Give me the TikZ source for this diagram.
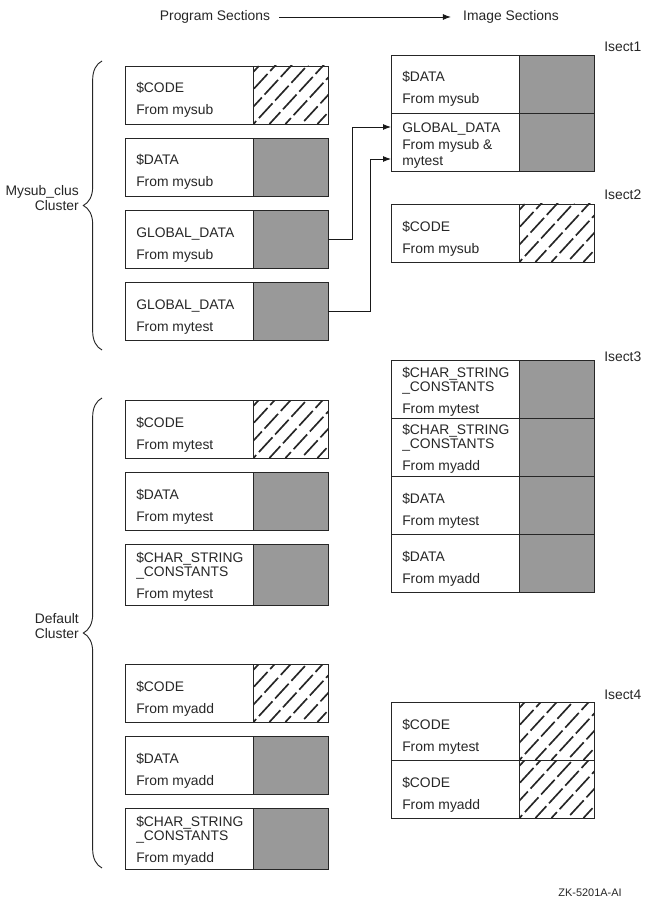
\documentclass[tikz,border=0pt]{standalone}
\usepackage{fontspec}
\setmainfont{Liberation Sans}
\usetikzlibrary{arrows.meta,decorations.pathreplacing}

\newcommand\secfont{\fontsize{10.4}{11}\selectfont}
% section box: (name)(top left){fill style}{height}{last baseline}{text}
\def\secbox(#1)(#2)#3#4#5#6{%
	\node[secbox, minimum height=#4] (#1) at (#2) {};
	\node[#3, minimum height=#4, anchor=north east] (#1-f) at (#1.north east) {};
	\node[seclabel] (#1-t) at ([shift={(11,#5)}]#1.north west) {#6};
}

\tikzset{
	secbox/.style={draw=black!85, line width=0.7pt, minimum width=152.25pt, inner sep=0pt, outer sep=0pt, anchor=north west},
	datafill/.style={draw=black!85, line width=0.7pt, fill=black!40, minimum width=55.9pt, inner sep=0pt, outer sep=0pt},
	hatch/.style={line width=1.25pt, dash pattern=on 15pt off 3pt},
	codefill/.style={draw=black!85, line width=0.7pt, minimum width=55.9pt, inner sep=0pt, outer sep=0pt,
		path picture={\foreach \k/\p in {-4/4pt,-3/10pt,-2/0pt,-1/6pt,0/12pt,1/3pt,2/9pt,3/15pt,4/5pt}
			\draw[hatch, dash phase=\p] ([xshift=\k*12pt]path picture bounding box.south west) -- ++(46pt,50pt);}},
	seclabel/.style={anchor=base west, inner sep=0pt, align=left, text=black!85, font=\secfont},
	cluslbl/.style={anchor=east, align=right, inner sep=0pt, text=black!85, font=\fontsize{10.4}{11.25}\selectfont},
	iselbl/.style={anchor=west, inner sep=0pt, text=black!85, font=\secfont},
	clusbrace/.style={decorate, decoration={brace, amplitude=14pt}, draw=black!85, line width=0.7pt},
	conn/.style={-{Latex[length=6pt,width=4.5pt]}, draw=black!90, line width=0.7pt},
}

\begin{document}
\begin{tikzpicture}[x=0.75pt, y=-0.75pt]
		%%%%% START %%%%%
		\useasboundingbox (0,0) rectangle (645,902);
		
		\node[iselbl, anchor=center] (hdprog) at (215,17) {Program Sections};
		\node[iselbl, anchor=center] (hdimg) at (511,17) {Image Sections};
		\draw[conn, shorten <=6.75pt, shorten >=9pt] (hdprog.east) -- (hdimg.west);
		
		%%%%% PROGRAM SECTIONS %%%%%
		\secbox(pcode1)(125,66){codefill}{43.5pt}{49}{\$CODE\\[5.5pt]From mysub}
		\secbox(pdata1)(125,138){datafill}{43.5pt}{49}{\$DATA\\[5.5pt]From mysub}
		\secbox(pglob1)(125,210){datafill}{43.5pt}{49}{GLOBAL\_DATA\\[5.5pt]From mysub}
		\secbox(pglob2)(125,282){datafill}{43.5pt}{49}{GLOBAL\_DATA\\[5.5pt]From mytest}
		
		\secbox(pcode2)(125,400){codefill}{43.5pt}{49}{\$CODE\\[5.5pt]From mytest}
		\secbox(pdata2)(125,472){datafill}{43.5pt}{49}{\$DATA\\[5.5pt]From mytest}
		\secbox(pchar2)(125,544){datafill}{45.75pt}{54}{\$CHAR\_STRING\\\_CONSTANTS\\[5pt]From mytest}
		
		\secbox(pcode3)(125,664){codefill}{43.5pt}{49}{\$CODE\\[5.5pt]From myadd}
		\secbox(pdata3)(125,736){datafill}{43.5pt}{49}{\$DATA\\[5.5pt]From myadd}
		\secbox(pchar3)(125,808){datafill}{45.75pt}{54}{\$CHAR\_STRING\\\_CONSTANTS\\[5pt]From myadd}
		
		\draw[clusbrace] (102,350) -- (102,61);
		\node[cluslbl] (mysubclus) at (79,198) {Mysub\_clus\\Cluster};
		\draw[clusbrace] (102,868) -- (102,398);
		\node[cluslbl] (defclus) at (79,626) {Default\\Cluster};
		
		%%%%% IMAGE SECTIONS %%%%%
		\secbox(is1a)(391,55){datafill}{43.5pt}{49}{\$DATA\\[5.5pt]From mysub}
		\secbox(is1b)(is1a.south west){datafill}{43.5pt}{53}{GLOBAL\_DATA\\[1.5pt]From mysub \&\\[1.5pt]mytest}
		\node[iselbl] (isect1) at (604,47) {Isect1};
		
		\secbox(is2a)(391,204){codefill}{43.5pt}{49}{\$CODE\\[5.5pt]From mysub}
		\node[iselbl] (isect2) at (604,195) {Isect2};
		
		\secbox(is3a)(391,360){datafill}{43.5pt}{53}{\$CHAR\_STRING\\\_CONSTANTS\\[5pt]From mytest}
		\secbox(is3b)(is3a.south west){datafill}{43.5pt}{52}{\$CHAR\_STRING\\\_CONSTANTS\\[5pt]From myadd}
		\secbox(is3c)(is3b.south west){datafill}{43.5pt}{49}{\$DATA\\[5.5pt]From mytest}
		\secbox(is3d)(is3c.south west){datafill}{43.5pt}{49}{\$DATA\\[5.5pt]From myadd}
		\node[iselbl] (isect3) at (604,357) {Isect3};
		
		\secbox(is4a)(391,702){codefill}{43.5pt}{49}{\$CODE\\[5.5pt]From mytest}
		\secbox(is4b)(is4a.south west){codefill}{43.5pt}{49}{\$CODE\\[5.5pt]From myadd}
		\node[iselbl] (isect4) at (604,695) {Isect4};
		
		\draw[conn] (pglob1.east) -- ++(24,0) |- ([yshift=11.25pt]is1b.west);
		\draw[conn] (pglob2.east) -- ++(42,0) |- ([yshift=-12.75pt]is1b.west);
		
		\node[iselbl, anchor=center, font=\fontsize{8.2}{10}\selectfont] (zk) at (590,893) {ZK-5201A-AI};
		%%%%% END %%%%%
\end{tikzpicture}
\end{document}
